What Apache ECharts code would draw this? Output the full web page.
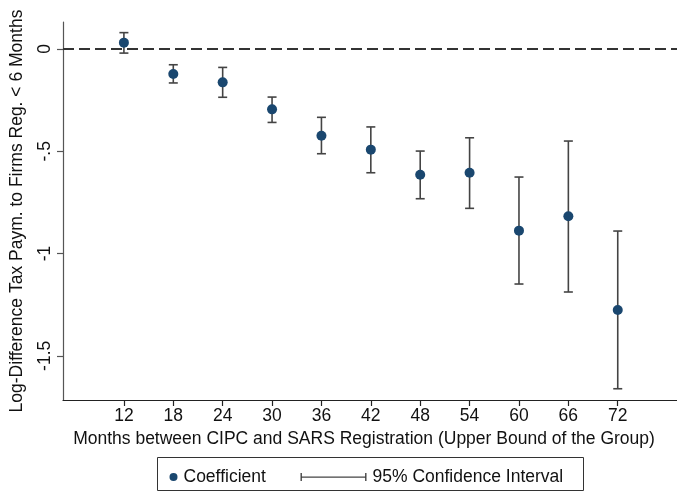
<!DOCTYPE html>
<html>
<head>
<meta charset="utf-8">
<script src="https://cdn.jsdelivr.net/npm/echarts@6/dist/echarts.min.js"></script>
<style>
  html, body { margin: 0; padding: 0; background: #fff; }
  #chart { width: 677px; height: 493px; }
</style>
</head>
<body>
<div id="chart"></div>
<script>
// Months between CIPC and SARS registration (upper bound of each group)
const months = [12, 18, 24, 30, 36, 42, 48, 54, 60, 66, 72];
// Point estimates
const coefficient = [0.031, -0.122, -0.163, -0.295, -0.424, -0.492, -0.615, -0.605, -0.888, -0.818, -1.276];
// 95% confidence bounds
const ciLower = [-0.020, -0.166, -0.236, -0.359, -0.512, -0.605, -0.732, -0.779, -1.149, -1.188, -1.661];
const ciUpper = [0.080, -0.077, -0.090, -0.235, -0.334, -0.381, -0.499, -0.434, -0.626, -0.450, -0.890];
// Axis ticks
const yTicks = [0, -0.5, -1, -1.5];

const FONT = 'Liberation Sans, Arial, Helvetica, sans-serif';
const FS = 17.5;
const DOT = '#1a476f';
const BAR = '#444444';

const fmtY = v => {
  if (v === 0) return '0';
  return String(v).replace(/^(-?)0\./, '$1.');
};

const chart = echarts.init(document.getElementById('chart'), null, { renderer: 'canvas' });

chart.setOption({
  backgroundColor: '#ffffff',
  animation: false,
  textStyle: { fontFamily: FONT },
  grid: { left: 63, top: 22, right: 0, bottom: 93, containLabel: false },
  xAxis: {
    type: 'value',
    min: 4.6,
    max: 79.2,
    name: 'Months between CIPC and SARS Registration (Upper Bound of the Group)',
    nameLocation: 'middle',
    nameGap: 29,
    nameTextStyle: { fontSize: FS, color: '#111', fontFamily: FONT, padding: [0, 12, 0, 0] },
    axisLine: { show: true, onZero: false, lineStyle: { color: '#222', width: 1.2 } },
    axisTick: { show: true, length: 6, customValues: months, lineStyle: { color: '#222', width: 1.2 } },
    axisLabel: { customValues: months, fontSize: FS, color: '#111', margin: 7, fontFamily: FONT },
    splitLine: { show: false }
  },
  yAxis: {
    type: 'value',
    min: -1.716,
    max: 0.132,
    name: 'Log-Difference Tax Paym. to Firms Reg. < 6 Months',
    nameLocation: 'middle',
    nameGap: 37,
    nameTextStyle: { fontSize: FS, color: '#111', fontFamily: FONT },
    axisLine: { show: true, onZero: false, lineStyle: { color: '#555', width: 1.2 } },
    axisTick: { show: true, length: 6, customValues: yTicks, lineStyle: { color: '#555', width: 1.2 } },
    axisLabel: { customValues: yTicks, rotate: 90, fontSize: FS, color: '#111', margin: 9, formatter: fmtY, fontFamily: FONT },
    splitLine: { show: false }
  },
  legend: [
    {
      left: 164.5, top: 463,
      itemWidth: 8, itemHeight: 8,
      textStyle: { fontSize: FS, color: '#111', fontFamily: FONT, padding: [0, 0, 0, 1] },
      data: [{ name: 'Coefficient', icon: 'circle', itemStyle: { color: DOT } }]
    },
    {
      left: 295.5, top: 463,
      itemWidth: 66, itemHeight: 8,
      textStyle: { fontSize: FS, color: '#111', fontFamily: FONT, padding: [0, 0, 0, 1] },
      data: [{
        name: '95% Confidence Interval',
        icon: 'path://M0,0h1.4v8h-1.4zM0,3.4h66v1.3h-66zM64.6,0h1.4v8h-1.4z',
        itemStyle: { color: BAR }
      }]
    }
  ],
  graphic: [{
    type: 'rect',
    shape: { x: 157.5, y: 457.5, width: 426, height: 33 },
    style: { fill: 'none', stroke: '#333', lineWidth: 1 },
    silent: true
  }],
  series: [
    {
      name: '95% Confidence Interval',
      type: 'custom',
      z: 2,
      data: months.map((m, i) => [m, ciLower[i], ciUpper[i]]),
      encode: { x: 0, y: [1, 2] },
      renderItem: (params, api) => {
        const lo = api.coord([api.value(0), api.value(1)]);
        const hi = api.coord([api.value(0), api.value(2)]);
        const cap = 4.5;
        const style = { stroke: BAR, lineWidth: 1.6, fill: 'none' };
        return {
          type: 'group',
          children: [
            { type: 'line', shape: { x1: lo[0], y1: lo[1], x2: hi[0], y2: hi[1] }, style },
            { type: 'line', shape: { x1: lo[0] - cap, y1: lo[1], x2: lo[0] + cap, y2: lo[1] }, style },
            { type: 'line', shape: { x1: hi[0] - cap, y1: hi[1], x2: hi[0] + cap, y2: hi[1] }, style }
          ]
        };
      },
      markLine: {
        silent: true,
        symbol: 'none',
        label: { show: false },
        lineStyle: { color: '#333', width: 1.8, type: [11, 5] },
        data: [{ yAxis: 0 }]
      }
    },
    {
      name: 'Coefficient',
      type: 'scatter',
      z: 3,
      symbol: 'circle',
      symbolSize: 10,
      itemStyle: { color: DOT, opacity: 1 },
      data: months.map((m, i) => [m, coefficient[i]])
    }
  ]
});
</script>
</body>
</html>
